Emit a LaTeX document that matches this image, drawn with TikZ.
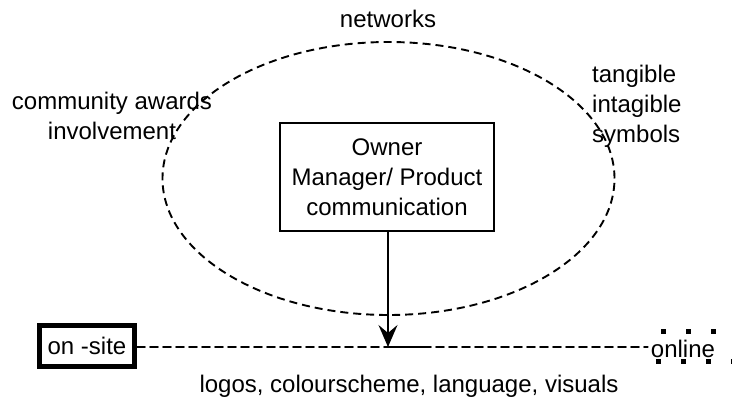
\documentclass[tikz,border=0pt]{standalone}
\usepackage{fontspec}
\setmainfont{Liberation Sans}
\usetikzlibrary{arrows.meta,shapes.geometric}
\begin{document}
\begin{tikzpicture}[x=1pt,y=-1pt,font=\fontsize{24}{30}\selectfont,
  dsh/.style={dash pattern=on 8pt off 5pt, line width=1.9pt},
  lbl/.style={inner sep=0pt, align=center},
  dotbox/.style={line width=5pt, line cap=rect, dash pattern=on 0.1pt off 24.9pt}]
\useasboundingbox (0,0) rectangle (732,403);
\node[draw, dsh, ellipse, minimum width=452pt, minimum height=273pt, inner sep=0pt] (ell) at (388.5,178.5) {};
\node[draw, line width=1.8pt, fill=white, minimum width=214pt, minimum height=108pt, align=center, inner sep=0pt] (box) at (387,177) {Owner\\Manager/ Product\\communication};
\node[draw, line width=5pt, minimum width=95pt, minimum height=41pt, inner sep=0pt] (onsite) at (87,346) {on -site};
\node[inner sep=3pt] (online) at (683,349) {online};
\draw[dotbox] (663,332) -- (763,332);
\draw[dotbox] (658,362) -- (758,362);
\coordinate (hit) at (388,347);
\coordinate (solidend) at (427,347);
\draw[dsh, line cap=round] (onsite.east |- hit) -- (online.west |- hit);
\draw[line width=1.8pt] (hit) -- (solidend);
\draw[line width=1.8pt, -{Stealth[length=22pt, width=19pt, inset=8pt]}] (box.south -| hit) -- (hit);
\node[lbl] (net) at (388,19) {networks};
\node[lbl] (comm) at (112,116) {community awards\\involvement};
\node[lbl, align=left, anchor=west] (tang) at (592,106) {tangible\\intagible\\symbols};
\node[lbl] (logos) at (409,386) {logos, colourscheme, language, visuals};
\end{tikzpicture}
\end{document}
